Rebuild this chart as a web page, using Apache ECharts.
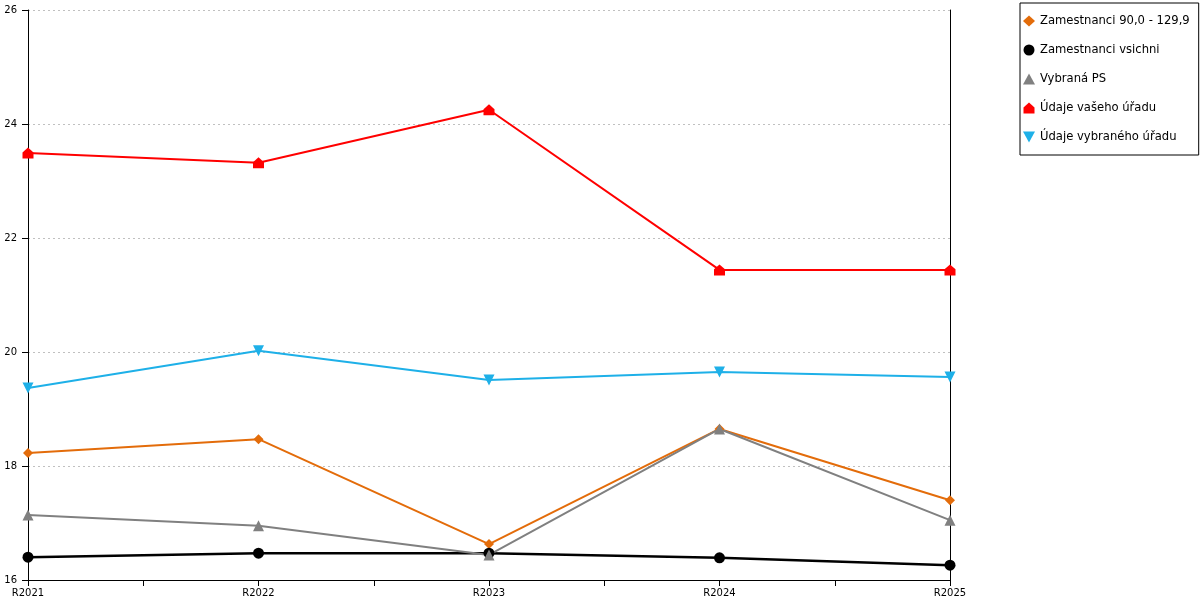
<!DOCTYPE html>
<html lang="cs">
<head>
  <meta charset="UTF-8">
  <title>Zamestnanci</title>
  <script src="https://cdn.jsdelivr.net/npm/echarts@6/dist/echarts.min.js"></script>
  <style>
    html, body { margin: 0; padding: 0; background: #fff; }
  </style>
</head>
<body>
<div id="main" style="width: 1200px;height:600px;"></div>
<script type="text/javascript">
  // data
  var years = ['R2021', 'R2022', 'R2023', 'R2024', 'R2025'];
  var zam90 = [18.23, 18.47, 16.63, 18.65, 17.40];
  var zamVsichni = [16.40, 16.47, 16.47, 16.39, 16.26];
  var vybranaPS = [17.14, 16.95, 16.44, 18.65, 17.05];
  var vasUrad = [23.49, 23.32, 24.25, 21.44, 21.44];
  var vybranyUrad = [19.37, 20.02, 19.51, 19.65, 19.56];

  var names = ['Zamestnanci 90,0 - 129,9', 'Zamestnanci vsichni', 'Vybraná PS', 'Údaje vašeho úřadu', 'Údaje vybraného úřadu'];

  var house = 'path://M0,10 L0,4.5 L5,0 L10,4.5 L10,10 Z';
  var triDown = 'path://M0,0 L10,0 L5,9 Z';

  var myChart = echarts.init(document.getElementById('main'));

  function line(name, data, color, symbol, width, size) {
    return {
      name: name,
      type: 'line',
      data: data,
      symbol: symbol,
      symbolSize: size,
      showAllSymbol: true,
      lineStyle: { color: color, width: width },
      itemStyle: { color: color },
      emphasis: { disabled: true },
      animation: false
    };
  }

  myChart.setOption({
    textStyle: { fontFamily: 'DejaVu Sans' },
    grid: { left: 28, right: 250, top: 10, bottom: 20 },
    legend: {
      orient: 'vertical',
      left: 1020,
      top: 3,
      padding: [12, 9, 12, 3],
      itemGap: 17,
      itemWidth: 12,
      itemHeight: 11,
      borderColor: '#000',
      borderWidth: 1,
      borderRadius: 0,
      textStyle: { fontSize: 11.6, color: '#000', fontFamily: 'DejaVu Sans' },
      data: [
        { name: names[0], icon: 'diamond' },
        { name: names[1], icon: 'circle' },
        { name: names[2], icon: 'triangle' },
        { name: names[3], icon: house },
        { name: names[4], icon: triDown }
      ]
    },
    xAxis: [{
      type: 'category',
      data: years,
      boundaryGap: false,
      axisLine: { show: true, lineStyle: { color: '#000', width: 1 } },
      axisTick: { show: true, length: 6, lineStyle: { color: '#000', width: 1 } },
      axisLabel: { color: '#000', fontSize: 10, margin: 8, fontFamily: 'DejaVu Sans' },
      splitLine: { show: false }
    }, {
      // midpoint ticks between the categories
      type: 'category',
      data: ['a', 'b', 'c', 'd'],
      position: 'bottom',
      boundaryGap: true,
      axisLine: { show: false },
      axisTick: { show: true, alignWithLabel: true, length: 6, lineStyle: { color: '#000', width: 1 } },
      axisLabel: { show: false },
      splitLine: { show: false }
    }],
    yAxis: [{
      type: 'value',
      min: 16,
      max: 26,
      interval: 2,
      axisLine: { show: true, lineStyle: { color: '#000', width: 1 } },
      axisTick: { show: true, length: 6, lineStyle: { color: '#000', width: 1 } },
      axisLabel: { color: '#000', fontSize: 10, margin: 11, fontFamily: 'DejaVu Sans' },
      splitLine: { show: true, lineStyle: { color: '#c0c0c0', type: [2, 3], width: 1 } }
    }, {
      type: 'value',
      position: 'right',
      min: 0,
      max: 1,
      axisLine: { show: true, lineStyle: { color: '#000', width: 1 } },
      axisTick: { show: false },
      axisLabel: { show: false },
      splitLine: { show: false }
    }],
    series: [
      line(names[0], zam90, '#e36c0a', 'diamond', 2, 10),
      line(names[1], zamVsichni, '#000000', 'circle', 2.5, 11),
      line(names[2], vybranaPS, '#808080', 'triangle', 2, 11),
      line(names[3], vasUrad, '#ff0000', house, 2, 11),
      line(names[4], vybranyUrad, '#1eb0e8', triDown, 2, 11)
    ]
  });
</script>
</body>
</html>
